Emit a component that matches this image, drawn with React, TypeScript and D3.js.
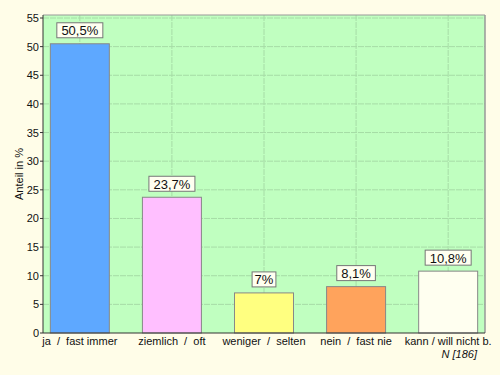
import React from "react";
import * as d3 from "d3";

const categories = ["ja  /  fast immer", "ziemlich  /  oft", "weniger  /  selten", "nein  /  fast nie", "kann / will nicht b."];
const values = [50.5, 23.7, 7, 8.1, 10.8];
const valueLabels = ["50,5%", "23,7%", "7%", "8,1%", "10,8%"];
const barColors = ["#5ea8ff", "#ffbfff", "#ffff80", "#ffa35c", "#fffff0"];
const yTicks = [0, 5, 10, 15, 20, 25, 30, 35, 40, 45, 50, 55];
const yTitle = "Anteil in %";
const note = "N [186]";

const W = 500;
const H = 375;
const left = 43;
const right = 485;
const top = 15;
const bottom = 333;

export default function App() {
  const x = d3.scalePoint<string>().domain(categories).range([left, right]).padding(0.4);
  const y = d3.scaleLinear().domain([0, 55]).range([bottom, 18]);
  const barW = 59;
  const font = "'Liberation Sans', Arial, sans-serif";

  return (
    <svg width={W} height={H} style={{ position: "absolute", left: 0, top: 0 }} fontFamily={font}>
      <rect width={W} height={H} fill="#fffde8" />
      <rect x={left} y={top} width={right - left} height={bottom - top} fill="#c0ffc0" />
      {yTicks.slice(1).map(t => (
        <line key={"h" + t} x1={left} x2={right} y1={y(t)} y2={y(t)} stroke="#a6dca6" strokeWidth={1} strokeDasharray="6,1" />
      ))}
      {categories.map(c => (
        <line key={"v" + c} x1={x(c)} x2={x(c)} y1={top} y2={bottom} stroke="#a6dca6" strokeWidth={1} strokeDasharray="6,1" />
      ))}
      <line x1={left} x2={right} y1={top} y2={top} stroke="#999" />
      <line x1={right} x2={right} y1={top} y2={bottom} stroke="#999" strokeWidth={1.5} />
      {categories.map((c, i) => {
        const cx = x(c) as number;
        const yTop = y(values[i]);
        const lw = valueLabels[i].length * 7.4 + 9;
        return (
          <g key={c}>
            <rect x={cx - barW / 2} y={yTop} width={barW} height={bottom - yTop} fill={barColors[i]} stroke="#888" strokeWidth={1} />
            <rect x={cx - lw / 2} y={yTop - 21} width={lw} height={15} fill="#fffff0" stroke="#777" strokeWidth={1} />
            <text x={cx} y={yTop - 8.5} textAnchor="middle" fontSize={13} fill="#111">{valueLabels[i]}</text>
            <text x={cx} y={345} textAnchor="middle" fontSize={11} fill="#111" style={{ whiteSpace: "pre" }}>{c}</text>
          </g>
        );
      })}
      <line x1={left} x2={left} y1={top} y2={bottom} stroke="#333" />
      <line x1={left} x2={right} y1={bottom} y2={bottom} stroke="#333" />
      {yTicks.map(t => (
        <g key={"t" + t}>
          <line x1={left - 3} x2={left} y1={y(t)} y2={y(t)} stroke="#333" />
          <text x={left - 4} y={y(t) + 4} textAnchor="end" fontSize={11} fill="#111">{t}</text>
        </g>
      ))}
      <text transform="translate(23,174) rotate(-90)" textAnchor="middle" fontSize={11} fill="#111">{yTitle}</text>
      <text x={477} y={358} textAnchor="end" fontSize={11} fontStyle="italic" fill="#111">{note}</text>
    </svg>
  );
}
